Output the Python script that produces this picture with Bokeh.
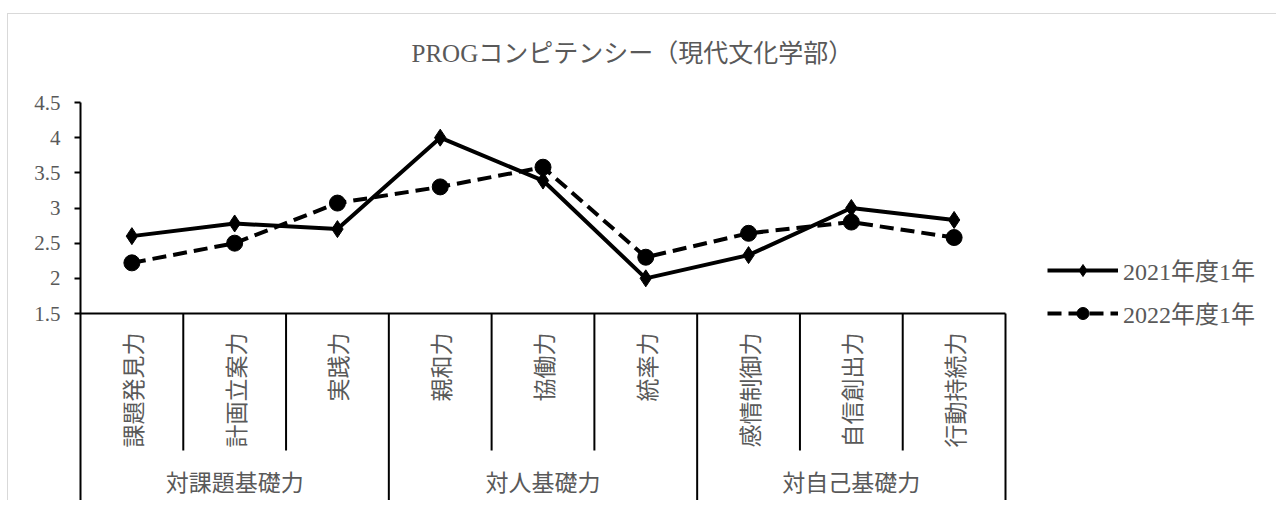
import numpy as np
from bokeh.plotting import figure
from bokeh.models import Range1d, FixedTicker, Legend, LegendItem, ColumnDataSource, NumeralTickFormatter
from bokeh.core.properties import value
from bokeh.embed import file_html
from bokeh.resources import INLINE

title_text = "PROGコンピテンシー（現代文化学部）"
categories = ["課題発見力", "計画立案力", "実践力", "親和力", "協働力", "統率力",
              "感情制御力", "自信創出力", "行動持続力"]
groups = ["対課題基礎力", "対人基礎力", "対自己基礎力"]
group_sizes = [3, 3, 3]
series_names = ["2021年度1年", "2022年度1年"]
s2021 = [2.6, 2.78, 2.7, 4.0, 3.39, 2.0, 2.33, 3.0, 2.83]
s2022 = [2.22, 2.5, 3.07, 3.3, 3.58, 2.3, 2.64, 2.8, 2.58]
y_ticks = [1.5, 2, 2.5, 3, 3.5, 4, 4.5]

SERIF_CJK = "'Liberation Serif', 'Noto Sans CJK JP'"
SANS_CJK = "'Noto Sans CJK JP'"
GRAY = "#595959"

n = len(categories)
xs = np.arange(n) + 0.5
Y_MIN, Y_MAX = y_ticks[0], y_ticks[-1]

# layout geometry (pixels, page == figure coordinates)
W, H = 1276, 500
FRAME_L, FRAME_T = 80, 102
AXIS_Y_PX = 313          # pixel row of Y_MIN
CATS_RIGHT_PX = 1005     # pixel column of the end of the last category
PX_PER_UNIT_Y = (AXIS_Y_PX - FRAME_T) / (Y_MAX - Y_MIN)
table_bottom = Y_MIN - (H - AXIS_Y_PX) / PX_PER_UNIT_Y
cat_sep_bottom = Y_MIN - (450 - AXIS_Y_PX) / PX_PER_UNIT_Y
x_end = n * (W - FRAME_L) / (CATS_RIGHT_PX - FRAME_L)

p = figure(width=W, height=H, output_backend="svg", toolbar_location=None,
           x_range=Range1d(0, x_end), y_range=Range1d(table_bottom, Y_MAX),
           x_axis_location=None,
           min_border_left=FRAME_L, min_border_top=FRAME_T, min_border_bottom=0, min_border_right=0)
p.styles = {
    "background": "linear-gradient(#d9d9d9, #d9d9d9) 7px 13px / 100% 1px no-repeat, "
                  "linear-gradient(#d9d9d9, #d9d9d9) 7px 13px / 1px 100% no-repeat, white"
}
p.grid.visible = False
p.outline_line_color = None
p.background_fill_color = "white"
p.border_fill_color = None

p.title.text = title_text
p.title.align = "left"
p.title.offset = 331
p.title.standoff = 72
p.title.text_font_size = "25px"
p.title.text_font_style = "normal"
p.title.text_font = SERIF_CJK
p.title.text_color = GRAY

ax = p.yaxis[0]
ax.ticker = FixedTicker(ticks=y_ticks)
ax.formatter = NumeralTickFormatter(format="0.[0]")
ax.minor_tick_line_color = None
ax.major_tick_out = 6
ax.major_tick_in = 0
ax.major_tick_line_width = 2
ax.axis_line_width = 2
ax.axis_line_color = "black"
ax.major_tick_line_color = "black"
ax.major_label_text_font_size = "21px"
ax.major_label_text_font = "Liberation Serif"
ax.major_label_text_color = GRAY
ax.major_label_standoff = 14

# category table
p.segment(x0=[0], y0=[Y_MIN], x1=[n], y1=[Y_MIN], line_color="black", line_width=2)
bounds = [int(b) for b in np.cumsum(group_sizes)]
cat_seps = [k for k in range(1, n) if k not in bounds]
p.segment(x0=cat_seps, y0=[Y_MIN] * len(cat_seps), x1=cat_seps, y1=[cat_sep_bottom] * len(cat_seps),
          line_color="black", line_width=2)
p.segment(x0=bounds, y0=[Y_MIN] * len(bounds), x1=bounds, y1=[table_bottom] * len(bounds),
          line_color="black", line_width=2)

p.text(x=xs, y=[Y_MIN] * n, text=categories, angle=np.pi / 2, text_align="right",
       text_baseline="middle", y_offset=19, text_font=value(SANS_CJK),
       text_font_size="23px", text_color=GRAY)
starts = np.concatenate([[0], np.cumsum(group_sizes)[:-1]])
gx = starts + np.array(group_sizes) / 2
p.text(x=gx, y=[Y_MIN] * len(groups), text=groups, text_align="center",
       text_baseline="middle", y_offset=167, text_font=value(SANS_CJK),
       text_font_size="23px", text_color=GRAY)

# series
src = ColumnDataSource(dict(x=xs, a=s2021, b=s2022))
l1 = p.line("x", "a", source=src, line_color="black", line_width=4)
m1 = p.scatter("x", "a", source=src, marker="diamond", size=17, color="black")
l2 = p.line("x", "b", source=src, line_color="black", line_width=4, line_dash="14 7")
m2 = p.scatter("x", "b", source=src, marker="circle", size=16, color="black")

legend = Legend(items=[LegendItem(label=series_names[0], renderers=[l1, m1]),
                       LegendItem(label=series_names[1], renderers=[l2, m2])],
                location=(967, 170), glyph_width=71, glyph_height=30, label_height=30,
                spacing=8, padding=0, margin=0, border_line_color=None,
                background_fill_alpha=0, label_standoff=5, label_text_font_size="24px",
                label_text_color=GRAY, label_text_font=SERIF_CJK)
p.add_layout(legend)

open("out.html", "w").write(file_html(p, INLINE))
